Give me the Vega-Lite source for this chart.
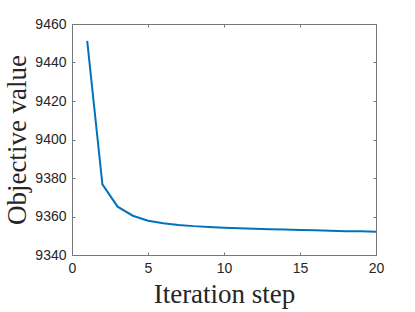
{
  "$schema": "https://vega.github.io/schema/vega-lite/v6.json",
  "width": 304,
  "height": 231,
  "autosize": "none",
  "padding": {"left": 72, "top": 24, "right": 39, "bottom": 57},
  "background": "white",
  "config": {"view": {"stroke": null}},
  "data": {"values": [
    {"step": 1, "value": 9451.2},
    {"step": 2, "value": 9376.7},
    {"step": 3, "value": 9365.1},
    {"step": 4, "value": 9360.4},
    {"step": 5, "value": 9357.8},
    {"step": 6, "value": 9356.5},
    {"step": 7, "value": 9355.6},
    {"step": 8, "value": 9355.0},
    {"step": 9, "value": 9354.6},
    {"step": 10, "value": 9354.2},
    {"step": 11, "value": 9353.9},
    {"step": 12, "value": 9353.6},
    {"step": 13, "value": 9353.4},
    {"step": 14, "value": 9353.2},
    {"step": 15, "value": 9353.0},
    {"step": 16, "value": 9352.8},
    {"step": 17, "value": 9352.6},
    {"step": 18, "value": 9352.4},
    {"step": 19, "value": 9352.3},
    {"step": 20, "value": 9352.1}
  ]},
  "layer": [
    {
      "mark": {"type": "line", "color": "#0072BD", "strokeWidth": 2},
      "encoding": {
        "x": {"field": "step", "type": "quantitative",
          "scale": {"domain": [0, 20], "nice": false, "zero": false},
          "axis": {"title": "Iteration step", "values": [0, 5, 10, 15, 20], "format": "d", "grid": false,
            "labelFlush": false, "labelOverlap": false,
            "domainColor": "#777", "tickColor": "#777", "tickSize": -3, "labelPadding": 9,
            "labelFont": "Liberation Sans", "labelFontSize": 14, "labelColor": "#262626",
            "titleFont": "Liberation Serif", "titleFontSize": 27, "titleFontWeight": "normal",
            "titleColor": "#262626", "titleY": 47, "titleBaseline": "alphabetic"}},
        "y": {"field": "value", "type": "quantitative",
          "scale": {"domain": [9340, 9460], "nice": false, "zero": false},
          "axis": {"title": "Objective value", "values": [9340, 9360, 9380, 9400, 9420, 9440, 9460], "format": "d", "grid": false,
            "labelFlush": false, "labelOverlap": false,
            "domainColor": "#777", "tickColor": "#777", "tickSize": -3, "labelPadding": 9,
            "labelFont": "Liberation Sans", "labelFontSize": 14, "labelColor": "#262626",
            "titleFont": "Liberation Serif", "titleFontSize": 27, "titleFontWeight": "normal",
            "titleColor": "#262626", "titleAngle": -90, "titleX": -47, "titleBaseline": "alphabetic"}}
      }
    },
    {
      "mark": {"type": "line", "opacity": 0},
      "encoding": {
        "x": {"field": "step", "type": "quantitative",
          "scale": {"domain": [0, 20], "nice": false, "zero": false},
          "axis": {"orient": "top", "title": null, "labels": false, "values": [0, 5, 10, 15, 20], "grid": false,
            "domainColor": "#777", "tickColor": "#777", "tickSize": -3}},
        "y": {"field": "value", "type": "quantitative",
          "scale": {"domain": [9340, 9460], "nice": false, "zero": false},
          "axis": {"orient": "right", "title": null, "labels": false, "values": [9340, 9360, 9380, 9400, 9420, 9440, 9460], "grid": false,
            "domainColor": "#777", "tickColor": "#777", "tickSize": -3}}
      }
    }
  ],
  "resolve": {"axis": {"x": "independent", "y": "independent"}}
}
